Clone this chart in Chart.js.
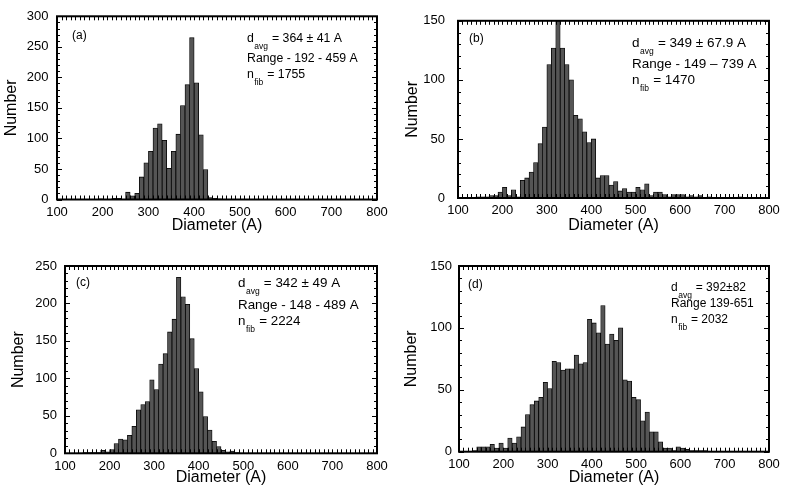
<!DOCTYPE html>
<html>
<head>
<meta charset="utf-8">
<script src="https://cdn.jsdelivr.net/npm/chart.js@4.4.1/dist/chart.umd.min.js"></script>
<style>
  html, body { margin: 0; padding: 0; background: #fff; }
  body { width: 789px; height: 492px; position: relative; overflow: hidden; }
  .panel { position: absolute; }
</style>
</head>
<body>
<div class="panel" style="left:0px;top:0px"><canvas id="chartA" width="395" height="240"></canvas></div>
<div class="panel" style="left:395px;top:0px"><canvas id="chartB" width="394" height="240"></canvas></div>
<div class="panel" style="left:0px;top:248px"><canvas id="chartC" width="395" height="244"></canvas></div>
<div class="panel" style="left:395px;top:248px"><canvas id="chartD" width="394" height="244"></canvas></div>
<script>
// left edge of each 10 A bin
const binLefts = [
    100, 110, 120, 130, 140, 150, 160, 170, 180, 190,
    200, 210, 220, 230, 240, 250, 260, 270, 280, 290,
    300, 310, 320, 330, 340, 350, 360, 370, 380, 390,
    400, 410, 420, 430, 440, 450, 460, 470, 480, 490,
    500, 510, 520, 530, 540, 550, 560, 570, 580, 590,
    600, 610, 620, 630, 640, 650, 660, 670, 680, 690,
    700, 710, 720, 730, 740, 750, 760, 770, 780, 790
];

const countsA = [
    0, 0, 0, 0, 0, 0, 0, 0, 0, 1,
    0, 0, 2, 2, 0, 12, 6, 10, 37, 60,
    79, 117, 124, 97, 51, 79, 107, 154, 188, 265,
    191, 106, 49, 3, 2, 1, 0, 0, 0, 0,
    0, 0, 0, 0, 0, 0, 0, 0, 0, 0,
    0, 0, 0, 0, 0, 0, 0, 0, 0, 0,
    0, 0, 0, 0, 0, 0, 0, 0, 0, 0
];

const countsB = [
    0, 0, 0, 0, 1, 1, 1, 2, 2, 5,
    9, 2, 7, 1, 15, 17, 22, 30, 46, 60,
    113, 127, 150, 127, 113, 100, 70, 67, 56, 47,
    50, 17, 19, 19, 11, 14, 6, 8, 5, 5,
    9, 7, 12, 2, 5, 5, 3, 1, 3, 3,
    3, 1, 2, 1, 2, 0, 1, 0, 0, 0,
    0, 0, 0, 1, 0, 0, 0, 0, 0, 0
];

const countsC = [
    0, 0, 0, 0, 1, 1, 1, 1, 4, 2,
    5, 13, 19, 18, 24, 36, 58, 65, 69, 98,
    85, 119, 133, 162, 179, 235, 209, 199, 153, 113,
    82, 49, 31, 16, 9, 4, 2, 3, 1, 0,
    0, 0, 0, 0, 0, 0, 0, 0, 0, 0,
    0, 0, 0, 0, 0, 0, 0, 0, 0, 0,
    0, 0, 0, 0, 0, 0, 0, 0, 0, 0
];

const countsD = [
    0, 0, 0, 1, 4, 4, 4, 6, 3, 7,
    3, 11, 7, 12, 20, 30, 38, 41, 44, 56,
    51, 73, 72, 66, 67, 67, 78, 71, 72, 107,
    104, 96, 118, 87, 95, 90, 100, 58, 57, 44,
    42, 25, 32, 16, 16, 8, 3, 3, 1, 4,
    3, 2, 1, 1, 1, 1, 0, 0, 0, 0,
    0, 0, 0, 0, 0, 0, 0, 0, 0, 0
];

const xTicks = [100, 200, 300, 400, 500, 600, 700, 800];

const FONT = "'Liberation Sans', Arial, Helvetica, sans-serif";

// inner tick marks, frame and the stats text
const framePlugin = {
    id: 'frame',
    afterDraw: function (chart, args, opts) {
        const ctx = chart.ctx;
        const a = chart.chartArea;
        const x = chart.scales.x;
        const y = chart.scales.y;
        ctx.save();
        ctx.strokeStyle = '#000';
        ctx.lineWidth = 1;
        ctx.beginPath();
        for (let v = x.min; v <= x.max; v += 10) {
            const px = Math.round(x.getPixelForValue(v)) + 0.5;
            ctx.moveTo(px, a.bottom); ctx.lineTo(px, a.bottom - 4);
            ctx.moveTo(px, a.top); ctx.lineTo(px, a.top + 4);
        }
        for (let v = y.min; v <= y.max; v += 10) {
            const py = Math.round(y.getPixelForValue(v)) + 0.5;
            const len = v % 50 === 0 ? 5 : 3;
            ctx.moveTo(a.left, py); ctx.lineTo(a.left + len, py);
            ctx.moveTo(a.right, py); ctx.lineTo(a.right - len, py);
        }
        ctx.stroke();
        ctx.lineWidth = 2;
        ctx.strokeRect(a.left, a.top, a.right - a.left, a.bottom - a.top);

        // panel tag
        ctx.fillStyle = '#000';
        ctx.textBaseline = 'middle';
        ctx.textAlign = 'left';
        ctx.font = '12px ' + FONT;
        ctx.fillText(opts.tag, a.left + opts.tagX, a.top + opts.tagY);

        // stats lines
        ctx.textBaseline = 'alphabetic';
        for (let i = 0; i < opts.lines.length; i++) {
            const ln = opts.lines[i];
            let tx = a.left + opts.textX;
            const ty = a.top + opts.baselines[i];
            ctx.font = opts.fontSize + 'px ' + FONT;
            ctx.fillText(ln.main, tx, ty);
            tx += ctx.measureText(ln.main).width;
            if (ln.sub) {
                ctx.font = '8.5px ' + FONT;
                ctx.fillText(ln.sub, tx + 0.5, ty + 7);
                tx += ctx.measureText(ln.sub).width + 1;
                ctx.font = opts.fontSize + 'px ' + FONT;
                ctx.fillText(ln.rest, tx, ty);
            }
        }
        ctx.restore();
    }
};

const panels = [
    { id: 'chartA', counts: countsA, yMax: 300, pad: { left: 0, top: 10, right: 18, bottom: 0 },
      yWidth: 57, xHeight: 40.5, yTickPad: 8.5, yTitlePad: 2.1, xTitlePad: 4.4,
      text: { tag: '(a)', tagX: 15, tagY: 19, textX: 190, baselines: [26, 46, 62], fontSize: 12.3,
        lines: [{ main: 'd', sub: 'avg', rest: ' = 364 \u00b1 41 A' }, { main: 'Range - 192 - 459 A' }, { main: 'n', sub: 'fib', rest: ' = 1755' }] } },
    { id: 'chartB', counts: countsB, yMax: 150, pad: { left: 0, top: 12, right: 20, bottom: 0 },
      yWidth: 63, xHeight: 42, yTickPad: 13, yTitlePad: 7.9, xTitlePad: 4.4,
      text: { tag: '(b)', tagX: 11, tagY: 18, textX: 174, baselines: [26, 47, 63], fontSize: 13.5,
        lines: [{ main: 'd', sub: 'avg', rest: ' = 349 \u00b1 67.9 A' }, { main: 'Range - 149 \u2013 739 A' }, { main: 'n', sub: 'fib', rest: ' = 1470' }] } },
    { id: 'chartC', counts: countsC, yMax: 250, pad: { left: 0, top: 18, right: 18, bottom: 0 },
      yWidth: 65, xHeight: 38.7, yTickPad: 8, yTitlePad: 8.7, xTitlePad: 4.4,
      text: { tag: '(c)', tagX: 11, tagY: 17, textX: 173, baselines: [21, 43, 59], fontSize: 13.4,
        lines: [{ main: 'd', sub: 'avg', rest: ' = 342 \u00b1 49 A' }, { main: 'Range - 148 - 489 A' }, { main: 'n', sub: 'fib', rest: ' = 2224' }] } },
    { id: 'chartD', counts: countsD, yMax: 150, pad: { left: 0, top: 18, right: 20, bottom: 0 },
      yWidth: 64, xHeight: 40.3, yTickPad: 7, yTitlePad: 7.1, xTitlePad: 4.4,
      text: { tag: '(d)', tagX: 9, tagY: 19, textX: 212, baselines: [25, 41, 57], fontSize: 12,
        lines: [{ main: 'd', sub: 'avg', rest: ' = 392\u00b182' }, { main: 'Range 139-651' }, { main: 'n', sub: 'fib', rest: ' = 2032' }] } }
];

function makeChart(p) {
    const points = binLefts.map(function (b, i) { return { x: b + 5, y: p.counts[i] }; });
    return new Chart(document.getElementById(p.id), {
        type: 'bar',
        data: {
            datasets: [{
                data: points,
                backgroundColor: '#555555',
                borderColor: '#000000',
                borderWidth: 0.8,
                barPercentage: 1,
                categoryPercentage: 1
            }]
        },
        options: {
            responsive: false,
            animation: false,
            layout: { padding: p.pad },
            plugins: {
                legend: { display: false },
                tooltip: { enabled: false },
                frame: p.text
            },
            scales: {
                x: {
                    type: 'linear',
                    min: 100,
                    max: 800,
                    offset: false,
                    grid: { display: false, drawTicks: false },
                    border: { display: false },
                    afterBuildTicks: function (s) { s.ticks = xTicks.map(function (v) { return { value: v }; }); },
                    afterFit: function (s) { s.height = p.xHeight; },
                    ticks: { color: '#000', padding: 5, maxRotation: 0, font: { family: FONT, size: 13 } },
                    title: { display: true, text: 'Diameter (A)', color: '#000',
                        padding: { top: 0, bottom: p.xTitlePad }, font: { family: FONT, size: 16 } }
                },
                y: {
                    min: 0,
                    max: p.yMax,
                    grid: { display: false, drawTicks: false },
                    border: { display: false },
                    afterFit: function (s) { s.width = p.yWidth; },
                    ticks: { stepSize: 50, color: '#000', padding: p.yTickPad, font: { family: FONT, size: 13 } },
                    title: { display: true, text: 'Number', color: '#000',
                        padding: { top: p.yTitlePad, bottom: 0 }, font: { family: FONT, size: 16 } }
                }
            }
        },
        plugins: [framePlugin]
    });
}

panels.forEach(makeChart);
</script>
</body>
</html>
